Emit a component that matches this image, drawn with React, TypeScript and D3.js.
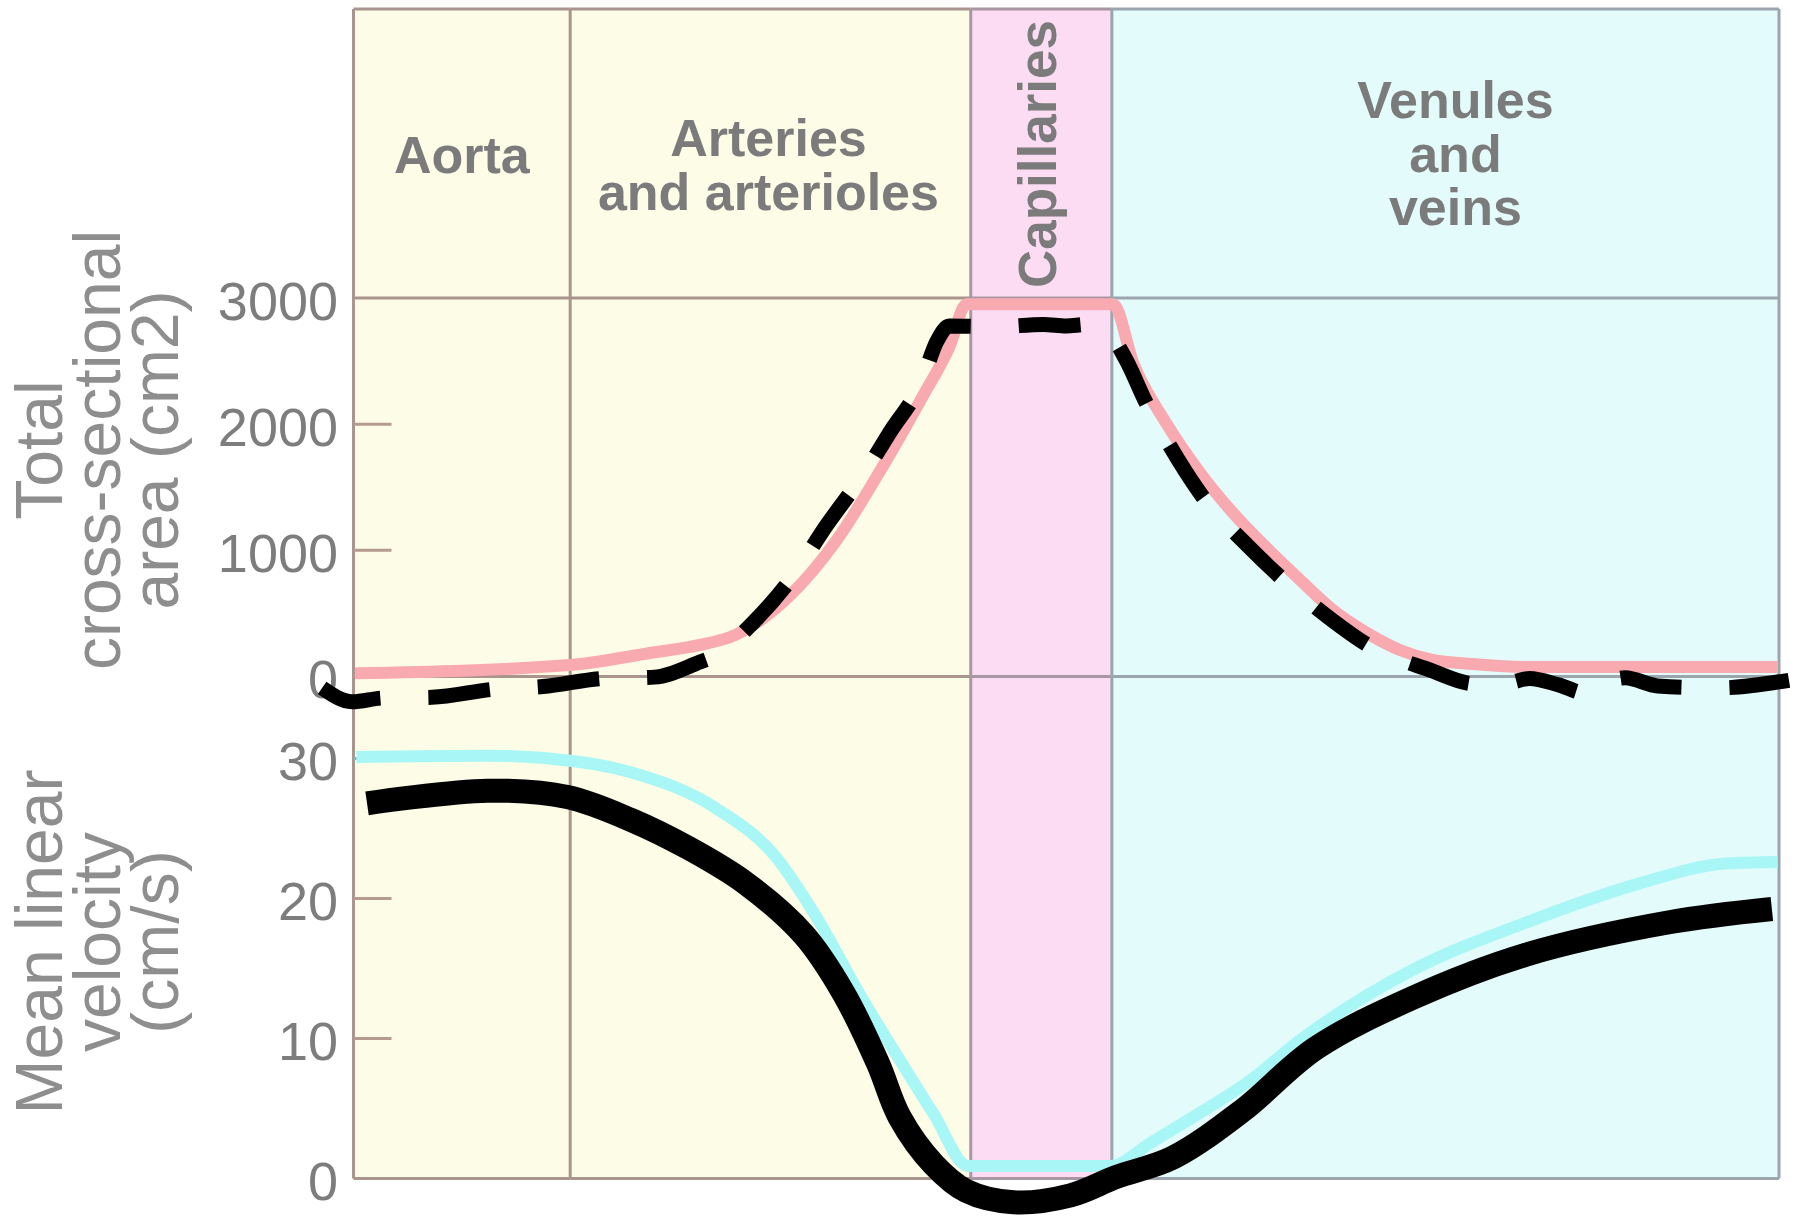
import React from 'react';
import * as d3 from 'd3';

const W = 1794;
const H = 1217;

// Vessel regions along the circulation (x in % of path length)
const regionNames = ['Aorta', 'Arteries|and arterioles', 'Capillaries', 'Venules|and|veins'];
const regionBounds = [0, 15.2, 43.3, 53.2, 100];
const regionFills = ['#fdfce7', '#fdfce7', '#fbdcf3', '#e4fbfc'];
const regionLineColors = ['#a9958d', '#a9958d', '#a996a4', '#9ba5ae'];

const areaTicks = [0, 1000, 2000, 3000];
const velocityTicks = [0, 10, 20, 30];

// Total cross-sectional area (cm2) – reference curve (pink)
const areaRefX = [0.1, 15.2, 20.8, 24.3, 26.8, 28.6, 30.6, 33.9, 37.1, 39.9, 41.8, 43.0, 53.3, 54.7, 57.0, 59.4, 61.7, 64.0, 66.4, 68.7, 71.1, 73.4, 75.7, 78.5, 82.0, 99.9];
const areaRefV = [25, 91, 186, 250, 330, 450, 640, 1082, 1660, 2215, 2612, 2950, 2950, 2485, 2010, 1613, 1296, 1026, 765, 527, 345, 210, 131, 99, 75, 75];

// Total cross-sectional area – hand-drawn estimate (black dashed)
const areaEstX = [-2.2, -0.1, 2.1, 5.5, 9.9, 13.3, 17.6, 21.1, 24.3, 25.5, 27.8, 30.6, 33.2, 36.0, 37.6, 39.9, 40.9, 41.8, 45.0, 48.4, 50.0, 51.4, 53.1, 54.2, 55.6, 57.0, 58.4, 59.8, 62.7, 65.0, 68.5, 71.3, 75.3, 78.8, 81.2, 82.5, 84.5, 86.4, 88.0, 89.2, 91.5, 95.8, 100.7];
const areaEstV = [-90, -200, -170, -165, -100, -80, -15, -5, 115, 170, 400, 760, 1200, 1640, 1930, 2350, 2650, 2778, 2772, 2790, 2778, 2790, 2706, 2509, 2170, 1880, 1620, 1390, 1040, 790, 460, 240, 60, -60, -45, -15, -65, -130, -40, -10, -75, -90, -30];

// Mean linear velocity (cm/s) – reference curve (cyan)
const velRefX = [0.2, 9.4, 15.5, 19.5, 25.5, 29.6, 32.4, 35.6, 38.3, 40.7, 43.1, 53.1, 56.0, 59.4, 62.9, 66.3, 74.3, 82.3, 90.3, 96.3, 99.9];
const velRefV = [30.1, 30.2, 29.8, 29.0, 26.4, 23.0, 18.8, 13.0, 8.5, 4.6, 0.9, 0.9, 2.6, 4.7, 7.0, 9.8, 14.9, 18.3, 21.1, 22.5, 22.6];

// Mean linear velocity – hand-drawn estimate (black solid)
const velEstX = [0.95, 9.4, 15.0, 19.5, 23.5, 27.5, 31.6, 34.4, 36.8, 38.3, 40.7, 43.0, 46.3, 50.3, 53.5, 57.5, 62.3, 67.5, 74.3, 82.3, 92.3, 99.5];
const velEstV = [26.8, 27.7, 27.25, 25.6, 23.6, 21.1, 17.4, 13.2, 8.2, 4.4, 1.0, -0.9, -1.7, -1.2, 0.1, 1.5, 4.8, 9.3, 12.9, 16.0, 18.3, 19.25];

const FONT = '"Liberation Sans", Arial, Helvetica, sans-serif';

export default function App() {
  const left = 353.5;
  const right = 1779;
  const top = 9;
  const bottom = 1178.5;

  const x = d3.scaleLinear().domain([0, 100]).range([left, right]);
  const yArea = d3.scaleLinear().domain([0, 3000]).range([676.5, 298]);
  const yVel = d3.scaleLinear().domain([0, 30]).range([bottom, 758.5]);

  const zip = (xs: number[], vs: number[]) => xs.map((d, i) => [d, vs[i]] as [number, number]);

  const areaLine = d3
    .line<[number, number]>()
    .x((d) => x(d[0]))
    .y((d) => yArea(d[1]))
    .curve(d3.curveMonotoneX);
  const velLine = d3
    .line<[number, number]>()
    .x((d) => x(d[0]))
    .y((d) => yVel(d[1]))
    .curve(d3.curveMonotoneX);
  const velSmooth = d3
    .line<[number, number]>()
    .x((d) => x(d[0]))
    .y((d) => yVel(d[1]))
    .curve(d3.curveCatmullRom.alpha(0.5));

  const labelYs: number[][] = [[173], [156, 210], [], [118, 172, 225]];
  const labelDx = [0, -2, 0, 10];

  return (
    <svg
      width={W}
      height={H}
      style={{ position: 'absolute', left: 0, top: 0, background: '#ffffff' }}
      fontFamily={FONT}
    >
      <rect x={0} y={0} width={W} height={H} fill="#ffffff" />
      {/* region backgrounds */}
      {regionNames.map((n, i) => (
        <rect
          key={'bg' + i}
          x={x(regionBounds[i])}
          y={top}
          width={x(regionBounds[i + 1]) - x(regionBounds[i])}
          height={bottom - top}
          fill={regionFills[i]}
        />
      ))}
      {/* horizontal frame lines per region */}
      {regionNames.map((n, i) => (
        <g key={'hl' + i} stroke={regionLineColors[i]} strokeWidth={3}>
          <line x1={x(regionBounds[i])} x2={x(regionBounds[i + 1])} y1={top} y2={top} />
          <line x1={x(regionBounds[i])} x2={x(regionBounds[i + 1])} y1={yArea(3000)} y2={yArea(3000)} />
          <line x1={x(regionBounds[i])} x2={x(regionBounds[i + 1])} y1={yArea(0)} y2={yArea(0)} />
          <line x1={x(regionBounds[i])} x2={x(regionBounds[i + 1])} y1={bottom} y2={bottom} />
        </g>
      ))}
      {/* vertical dividers */}
      {regionBounds.map((b, i) => (
        <line
          key={'vl' + i}
          x1={x(b)}
          x2={x(b)}
          y1={top}
          y2={bottom}
          stroke={i === 0 ? '#a9958d' : regionLineColors[Math.min(i, 3)]}
          strokeWidth={3}
        />
      ))}
      {/* ticks */}
      {areaTicks
        .filter((t) => t < 3000)
        .map((t) => (
          <line key={'at' + t} x1={left} x2={left + 38} y1={yArea(t)} y2={yArea(t)} stroke="#b59a90" strokeWidth={3} />
        ))}
      {velocityTicks
        .filter((t) => t > 0)
        .map((t) => (
          <line
            key={'vt' + t}
            x1={left}
            x2={left + 38}
            y1={yVel(t)}
            y2={yVel(t)}
            stroke={t === 30 ? '#8fb0b0' : '#b59a90'}
            strokeWidth={3}
          />
        ))}
      {/* tick labels */}
      {areaTicks.map((t) => (
        <text key={'al' + t} x={338} y={yArea(t)} dy="0.4em" textAnchor="end" fontSize={54} fill="#7d7d7d">
          {t}
        </text>
      ))}
      {velocityTicks.map((t) => (
        <text key={'vlb' + t} x={338} y={yVel(t)} dy="0.4em" textAnchor="end" fontSize={54} fill="#7d7d7d">
          {t}
        </text>
      ))}
      {/* region labels */}
      {regionNames.map((n, i) => {
        const cx = (x(regionBounds[i]) + x(regionBounds[i + 1])) / 2 + labelDx[i];
        if (n === 'Capillaries') {
          return (
            <text
              key={'rl' + i}
              transform={`translate(${cx + 15},154) rotate(-90)`}
              textAnchor="middle"
              fontSize={53}
              fontWeight="bold"
              fill="#7b7b7b"
            >
              {n}
            </text>
          );
        }
        const lines = n.split('|');
        return (
          <text key={'rl' + i} textAnchor="middle" fontSize={52} fontWeight="bold" fill="#7b7b7b">
            {lines.map((l, j) => (
              <tspan key={j} x={cx} y={labelYs[i][j]}>
                {l}
              </tspan>
            ))}
          </text>
        );
      })}
      {/* axis titles */}
      {[
        { lines: ['Total', 'cross-sectional', 'area (cm2)'], cy: 450 },
        { lines: ['Mean linear', 'velocity', '(cm/s)'], cy: 942 },
      ].map((t, k) => (
        <g key={'ttl' + k}>
          {t.lines.map((l, j) => (
            <text
              key={j}
              transform={`translate(${62 + j * 58},${t.cy}) rotate(-90)`}
              textAnchor="middle"
              fontSize={66}
              fill="#8e8e8e"
            >
              {l}
            </text>
          ))}
        </g>
      ))}
      {/* reference curves */}
      <path d={areaLine(zip(areaRefX, areaRefV)) || ''} fill="none" stroke="#f8aab0" strokeWidth={12} />
      <path d={velLine(zip(velRefX, velRefV)) || ''} fill="none" stroke="#a8f6f6" strokeWidth={12} />
      {/* estimates */}
      <path
        d={areaLine(zip(areaEstX, areaEstV)) || ''}
        fill="none"
        stroke="#000"
        strokeWidth={15}
        strokeDasharray="62 48"
      />
      <path d={velSmooth(zip(velEstX, velEstV)) || ''} fill="none" stroke="#000" strokeWidth={24} />
    </svg>
  );
}
